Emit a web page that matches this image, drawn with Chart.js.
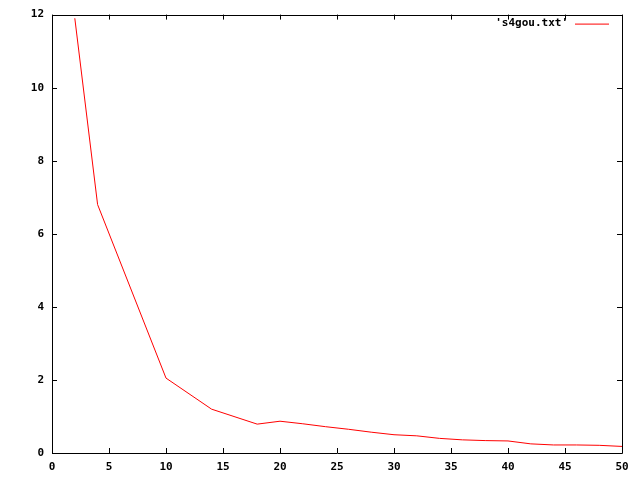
<!DOCTYPE html>
<html>
<head>
<meta charset="utf-8">
<script src="https://cdn.jsdelivr.net/npm/chart.js@4/dist/chart.umd.min.js"></script>
<style>
  html, body { margin: 0; padding: 0; background: #fff; }
  #wrap { width: 640px; height: 480px; }
</style>
</head>
<body>
<div id="wrap"><canvas id="grafico"></canvas></div>
<script>
// dati
const valoriX = [2, 4, 10, 14, 18, 20, 22, 24, 26, 28, 30, 32, 34, 36, 38, 40, 42, 44, 46, 48, 50];
const valoriY = [11.9, 6.8, 2.05, 1.2, 0.79, 0.87, 0.8, 0.72, 0.65, 0.57, 0.5, 0.47, 0.4, 0.36, 0.34, 0.33, 0.25, 0.22, 0.22, 0.21, 0.18];
const etichettaSerie = "'s4gou.txt'";
const tickX = [0, 5, 10, 15, 20, 25, 30, 35, 40, 45, 50];
const tickY = [0, 2, 4, 6, 8, 10, 12];

const font = { family: 'DejaVu Sans Mono', size: 11, weight: 'bold' };

// bordo, tacche interne e legenda in stile gnuplot
const cornice = {
    id: 'cornice',
    afterDraw(chart) {
        const ctx = chart.ctx;
        const a = chart.chartArea;
        const sx = chart.scales.x;
        const sy = chart.scales.y;
        ctx.save();
        ctx.strokeStyle = '#000';
        ctx.lineWidth = 1;
        ctx.beginPath();
        ctx.rect(Math.round(a.left) + 0.5, Math.round(a.top) + 0.5,
                 Math.round(a.right - a.left), Math.round(a.bottom - a.top));
        tickX.forEach(v => {
            const x = Math.round(sx.getPixelForValue(v)) + 0.5;
            ctx.moveTo(x, a.bottom); ctx.lineTo(x, a.bottom - 5);
            ctx.moveTo(x, a.top); ctx.lineTo(x, a.top + 5);
        });
        tickY.forEach(v => {
            const y = Math.round(sy.getPixelForValue(v)) + 0.5;
            ctx.moveTo(a.left, y); ctx.lineTo(a.left + 5, y);
            ctx.moveTo(a.right, y); ctx.lineTo(a.right - 5, y);
        });
        ctx.stroke();

        // legenda
        ctx.font = 'bold 11px "DejaVu Sans Mono"';
        ctx.fillStyle = '#000';
        ctx.textAlign = 'right';
        ctx.textBaseline = 'middle';
        ctx.fillText(etichettaSerie, a.right - 54, a.top + 9);
        ctx.strokeStyle = '#ff0000';
        ctx.beginPath();
        ctx.moveTo(a.right - 47, a.top + 9.5);
        ctx.lineTo(a.right - 13, a.top + 9.5);
        ctx.stroke();
        ctx.restore();
    }
};

new Chart(document.getElementById('grafico'), {
    type: 'line',
    data: {
        datasets: [{
            label: etichettaSerie,
            data: valoriX.map((x, i) => ({ x: x, y: valoriY[i] })),
            borderColor: '#ff0000',
            borderWidth: 1,
            pointRadius: 0,
            tension: 0,
            fill: false
        }]
    },
    options: {
        responsive: true,
        maintainAspectRatio: false,
        animation: false,
        layout: { padding: { top: 13, right: 18, left: 0, bottom: 0 } },
        plugins: { legend: { display: false }, tooltip: { enabled: false } },
        scales: {
            x: {
                type: 'linear',
                min: 0, max: 50,
                afterBuildTicks(scale) { scale.ticks = tickX.map(v => ({ value: v })); },
                afterFit(scale) { scale.height = 27; },
                grid: { display: false, drawTicks: false },
                border: { display: false },
                ticks: { color: '#000', font: font, padding: 8, maxRotation: 0 }
            },
            y: {
                type: 'linear',
                min: 0, max: 12,
                afterBuildTicks(scale) { scale.ticks = tickY.map(v => ({ value: v })); },
                afterFit(scale) { scale.width = 52; },
                grid: { display: false, drawTicks: false },
                border: { display: false },
                ticks: { color: '#000', font: font, padding: 8 }
            }
        }
    },
    plugins: [cornice]
});
</script>
</body>
</html>
